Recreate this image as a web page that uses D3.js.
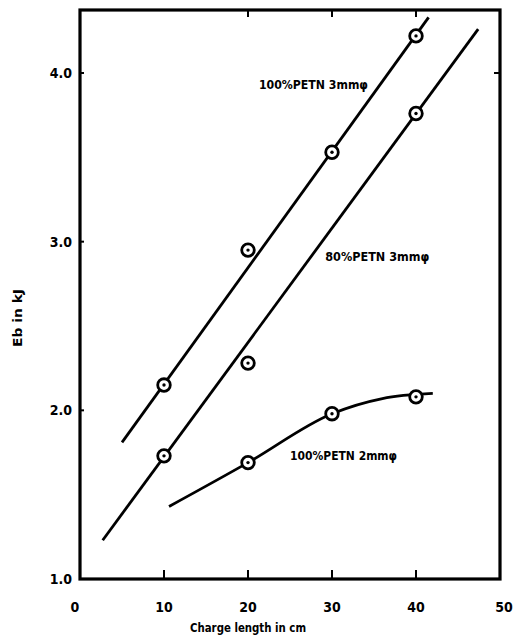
<!DOCTYPE html>
<html><head><meta charset="utf-8">
<script src="https://cdn.jsdelivr.net/npm/d3@7"></script>
<style>
body{margin:0;background:#fff;}
text{font-family:"Liberation Sans Narrow","DejaVu Sans Condensed","Liberation Sans",sans-serif;font-weight:bold;fill:#000;}
</style></head><body>
<svg id="c" width="516" height="635"></svg>
<script>
// Data
const xTicks = [0, 10, 20, 30, 40, 50];
const yTicks = [1.0, 2.0, 3.0, 4.0];
const xLabel = "Charge length in cm";
const yLabel = "Eb in kJ";

const seriesNames = ["100%PETN 3mmφ", "80%PETN 3mmφ", "100%PETN 2mmφ"];
const x100_3 = [10, 20, 30, 40];
const y100_3 = [2.15, 2.95, 3.53, 4.22];
const x80_3 = [10, 20, 40];
const y80_3 = [1.73, 2.28, 3.76];
const x100_2 = [20, 30, 40];
const y100_2 = [1.69, 1.98, 2.08];

// Fitted/drawn lines
const fit100_3 = [[5.0, 1.81], [41.5, 4.33]];
const fit80_3 = [[2.7, 1.23], [47.4, 4.26]];
const fit100_2 = [[10.6, 1.43], [20, 1.69], [30, 1.98], [36, 2.07], [42, 2.10]];

// Label anchor positions (data coords)
const labelPos = [[21.3, 3.93], [29.2, 2.91], [25.0, 1.735]];

const svg = d3.select("#c");
const L = 80, R = 500, T = 10, B = 579;
const x = d3.scaleLinear().domain([0, 50]).range([L, R]);
const y = d3.scaleLinear().domain([1.0, 4.0]).range([B, 73]);

// frame
svg.append("rect").attr("x", L).attr("y", T).attr("width", R - L).attr("height", B - T)
  .attr("fill", "none").attr("stroke", "#000").attr("stroke-width", 3.2);

// inward ticks
const g = svg.append("g").attr("stroke", "#000").attr("stroke-width", 2);
[10, 20, 30, 40].forEach(v => g.append("line").attr("x1", x(v)).attr("x2", x(v)).attr("y1", B).attr("y2", B - 9));
[20, 30, 40].forEach(v => g.append("line").attr("x1", x(v)).attr("x2", x(v)).attr("y1", T).attr("y2", T + 7));
[2.0, 3.0, 4.0].forEach(v => g.append("line").attr("x1", L).attr("x2", L + 4).attr("y1", y(v)).attr("y2", y(v)));
[4.0].forEach(v => g.append("line").attr("x1", R).attr("x2", R - 6).attr("y1", y(v)).attr("y2", y(v)));

// tick labels
svg.append("g").selectAll("text").data(yTicks).join("text")
  .attr("x", 72).attr("y", d => y(d)).attr("dy", "0.35em").attr("text-anchor", "end")
  .attr("font-size", 14).text(d => d.toFixed(1));
svg.append("g").selectAll("text").data(xTicks).join("text")
  .attr("x", d => x(d) - (d === 0 ? 5 : 0) + (d === 50 ? 4 : 0)).attr("y", 607).attr("dy", "0.35em").attr("text-anchor", "middle")
  .attr("font-size", 14).text(d => d);

// axis titles
svg.append("text").attr("x", 248).attr("y", 628).attr("dy", "0.35em").attr("text-anchor", "middle")
  .attr("font-size", 12).attr("textLength", 116).attr("lengthAdjust", "spacingAndGlyphs").text(xLabel);
svg.append("text").attr("transform", "translate(18,318) rotate(-90)").attr("dy", "0.35em").attr("text-anchor", "middle")
  .attr("font-size", 12).attr("textLength", 58).attr("lengthAdjust", "spacingAndGlyphs").text(yLabel);

// lines
const lineGen = d3.line().x(d => x(d[0])).y(d => y(d[1]));
const curveGen = d3.line().x(d => x(d[0])).y(d => y(d[1])).curve(d3.curveMonotoneX);
[fit100_3, fit80_3].forEach(p => svg.append("path").attr("d", lineGen(p))
  .attr("fill", "none").attr("stroke", "#000").attr("stroke-width", 2.8));
svg.append("path").attr("d", curveGen(fit100_2))
  .attr("fill", "none").attr("stroke", "#000").attr("stroke-width", 2.8);

// markers
function markers(xs, ys) {
  const pts = xs.map((v, i) => [v, ys[i]]);
  const mg = svg.append("g");
  mg.selectAll("circle.o").data(pts).join("circle").attr("class", "o")
    .attr("cx", d => x(d[0])).attr("cy", d => y(d[1])).attr("r", 6.3)
    .attr("fill", "#fff").attr("stroke", "#000").attr("stroke-width", 2.8);
  mg.selectAll("circle.i").data(pts).join("circle").attr("class", "i")
    .attr("cx", d => x(d[0])).attr("cy", d => y(d[1])).attr("r", 1.7).attr("fill", "#000");
}
markers(x100_3, y100_3);
markers(x80_3, y80_3);
markers(x100_2, y100_2);

// series labels
const widths = [109, 104, 107];
svg.append("g").selectAll("text").data(seriesNames).join("text")
  .attr("x", (d, i) => x(labelPos[i][0])).attr("y", (d, i) => y(labelPos[i][1])).attr("dy", "0.35em")
  .attr("font-size", 13).attr("textLength", (d, i) => widths[i]).attr("lengthAdjust", "spacingAndGlyphs")
  .text(d => d);
</script>
</body></html>
